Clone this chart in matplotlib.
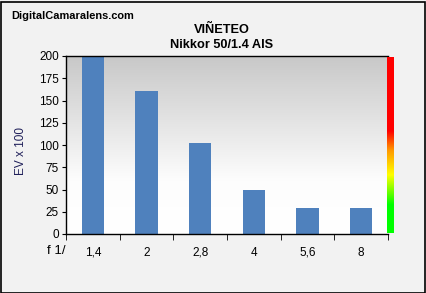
import numpy as np
import matplotlib
matplotlib.use('Agg')
import matplotlib.pyplot as plt
from matplotlib.colors import LinearSegmentedColormap

# data
apertures = ['1,4', '2', '2,8', '4', '5,6', '8']
vignetting = [200, 161, 102, 49, 29, 29]

plt.rcParams['font.family'] = ['Liberation Sans', 'DejaVu Sans']

W, H = 426, 293
fig = plt.figure(figsize=(W/100, H/100), dpi=100, facecolor='#f2f2f2')
fig.patches.append(plt.Rectangle((0.5/W, 0.5/H), 1-2/W, 1-2/H, transform=fig.transFigure,
                                 fill=False, edgecolor='black', lw=1.2))

# plot area in pixels
x0, x1, ytop, ybot = 66, 388, 56, 234
ax = fig.add_axes([x0/W, 1-ybot/H, (x1-x0)/W, (ybot-ytop)/H])

x = np.arange(len(apertures))
# background gradient gray -> white
grad = np.linspace(0, 1, 256).reshape(-1, 1)
bg = LinearSegmentedColormap.from_list('bg', [(0, '#ffffff'), (0.3, '#fdfdfd'), (1, '#c8c8c8')])
ax.imshow(grad, aspect='auto', cmap=bg, origin='lower',
          extent=[-0.5, len(apertures)-0.5, 0, 200], zorder=0)

ax.bar(x, vignetting, width=0.41, color='#4f81bd', zorder=2)
ax.set_xlim(-0.5, len(apertures)-0.5)
ax.set_ylim(0, 200)
ax.set_yticks(np.arange(0, 201, 25))
ax.set_xticks(x)
ax.set_xticklabels(apertures, fontsize=8.5)
ax.set_xticks(np.arange(-0.5, len(apertures)), minor=True)
ax.tick_params(axis='x', which='major', length=0, pad=9)
ax.tick_params(axis='x', which='minor', length=4, direction='out')
ax.tick_params(axis='y', labelsize=8.5, length=3, pad=2)
for s in ['top', 'right']:
    ax.spines[s].set_visible(False)
ax.spines['left'].set_linewidth(1)
ax.spines['bottom'].set_linewidth(1)
ax.plot([0, 1], [1, 1], transform=ax.transAxes, color='black', lw=1, clip_on=False)

fig.text(21/W, 1-151/H, 'EV x 100', fontsize=8.5, color='#20205a', rotation=90,
         ha='center', va='center')
fig.text(56/W, 1-251/H, 'f 1/', fontsize=9.5, ha='center', va='center')

# colour scale on the right
cax = fig.add_axes([387/W, 1-233/H, 7/W, (233-57)/H])
scale = LinearSegmentedColormap.from_list(
    'scale', [(0, '#00ff00'), (0.16, '#00ff00'), (0.33, '#ffff00'), (0.47, '#ff9900'),
              (0.58, '#ff0000'), (1, '#ff0000')])
cax.imshow(grad, aspect='auto', cmap=scale, origin='lower')
cax.axis('off')

fig.text(222/W, 1-30/H, 'VIÑETEO', fontsize=9.2, fontweight='bold', ha='center', va='center')
fig.text(222/W, 1-45/H, 'Nikkor 50/1.4 AIS', fontsize=9.2, fontweight='bold', ha='center', va='center')
fig.text(11/W, 1-16/H, 'DigitalCamaralens.com', fontsize=7.9, fontweight='bold',
         ha='left', va='center')

fig.savefig('out.png', dpi=100, facecolor=fig.get_facecolor())
